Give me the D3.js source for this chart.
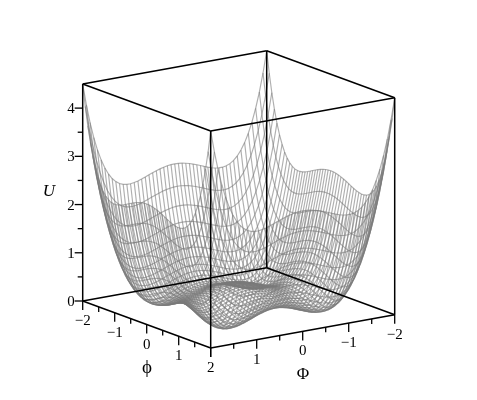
<!DOCTYPE html>
<html><head><meta charset="utf-8">
<script src="https://cdnjs.cloudflare.com/ajax/libs/d3/7.8.5/d3.min.js"></script>
<style>html,body{margin:0;background:#fff}svg{display:block;will-change:transform}text{font-family:"Liberation Serif",serif;fill:#000}</style>
</head><body><svg id="c" width="477" height="400"></svg>
<script>
// Cross-section heights; U at a node = phiProfile[i] + capPhiProfile[j].
const gridStep = 0.08;
const phiProfile = [2.25,1.804,1.423,1.100,0.830,0.608,0.429,0.288,0.180,0.102,0.048,0.016,0.002,0.002,0.013,0.032,0.058,0.087,0.118,0.148,0.176,0.201,0.222,0.237,0.247,0.25,0.247,0.237,0.222,0.201,0.176,0.148,0.118,0.087,0.058,0.032,0.013,0.002,0.002,0.016,0.048,0.102,0.180,0.288,0.429,0.608,0.830,1.100,1.423,1.804,2.25];
const capPhiProfile = [2.25,1.804,1.423,1.100,0.830,0.608,0.429,0.288,0.180,0.102,0.048,0.016,0.002,0.002,0.013,0.032,0.058,0.087,0.118,0.148,0.176,0.201,0.222,0.237,0.247,0.25,0.247,0.237,0.222,0.201,0.176,0.148,0.118,0.087,0.058,0.032,0.013,0.002,0.002,0.016,0.048,0.102,0.180,0.288,0.429,0.608,0.830,1.100,1.423,1.804,2.25];
const uTicks = [0,1,2,3,4], uMinor = [0.5,1.5,2.5,3.5];
const phiTicks = [-2,-1,0,1,2], phiMinor = [-1.5,-0.5,0.5,1.5];
const capPhiTicks = [2,1,0,-1,-2], capPhiMinor = [1.5,0.5,-0.5,-1.5];
const uMax = 4.5;

const gridPhi = phiProfile.map((_, i) => -2 + i * gridStep);
const gridCapPhi = capPhiProfile.map((_, j) => -2 + j * gridStep);

// Orthographic box: each model axis contributes a screen offset through a linear scale.
const phiX = d3.scaleLinear([-2,2],[0,128]), phiY = d3.scaleLinear([-2,2],[0,47]);
const capX = d3.scaleLinear([2,-2],[0,184]), capY = d3.scaleLinear([2,-2],[0,-33.2]);
const uY = d3.scaleLinear([0,uMax],[0,-217]);
const ox = 82.7, oy = 301;
const px = (f,F) => ox + phiX(f) + capX(F);
const py = (f,F,u) => oy + phiY(f) + capY(F) + uY(u);

const svg = d3.select("#c");
svg.append("rect").attr("width",477).attr("height",400).attr("fill","#fff");
const line = d3.line().x(d => px(d[0],d[1])).y(d => py(d[0],d[1],d[2])).curve(d3.curveLinear);

// wire mesh
const rows = [];
phiProfile.forEach((a,i) => rows.push(capPhiProfile.map((b,j) => [gridPhi[i], gridCapPhi[j], a+b])));
capPhiProfile.forEach((b,j) => rows.push(phiProfile.map((a,i) => [gridPhi[i], gridCapPhi[j], a+b])));
svg.append("g").selectAll("path").data(rows).join("path")
  .attr("d", line).attr("fill","none").attr("stroke","#7a7a7a").attr("stroke-width",1.15).attr("stroke-opacity",0.6);

// box
const c = (f,F,u) => [f,F,u];
const edges = [
 [c(-2,2,0),c(2,2,0)],[c(2,2,0),c(2,-2,0)],[c(2,-2,0),c(-2,-2,0)],[c(-2,-2,0),c(-2,2,0)],
 [c(-2,2,uMax),c(2,2,uMax)],[c(2,2,uMax),c(2,-2,uMax)],[c(2,-2,uMax),c(-2,-2,uMax)],[c(-2,-2,uMax),c(-2,2,uMax)],
 [c(-2,2,0),c(-2,2,uMax)],[c(2,2,0),c(2,2,uMax)],[c(2,-2,0),c(2,-2,uMax)],[c(-2,-2,0),c(-2,-2,uMax)]];
svg.append("g").selectAll("path").data(edges).join("path")
  .attr("d", line).attr("fill","none").attr("stroke","#000").attr("stroke-width",1.5);

const tg = svg.append("g").attr("stroke","#000").attr("stroke-width",1.3);
const fmt = v => String(v).replace("-","\u2212");
// U axis
uTicks.concat(uMinor).forEach(u => {
  const major = uTicks.includes(u), y = py(-2,2,u);
  tg.append("line").attr("x1",ox).attr("x2",ox-(major?8:5)).attr("y1",y).attr("y2",y);
});
svg.append("g").selectAll("text").data(uTicks).join("text")
  .attr("x",ox-8).attr("y",u => py(-2,2,u)+5).attr("text-anchor","end").attr("font-size",15).text(fmt);
// phi axis
phiTicks.concat(phiMinor).forEach(f => {
  const major = phiTicks.includes(f), x = px(f,2), y = py(f,2,0);
  tg.append("line").attr("x1",x).attr("x2",x).attr("y1",y).attr("y2",y+(major?9:5));
});
svg.append("g").selectAll("text").data(phiTicks).join("text")
  .attr("x",f => px(f,2)).attr("y",f => py(f,2,0)+24).attr("text-anchor","middle").attr("font-size",15).text(fmt);
// Phi axis
capPhiTicks.concat(capPhiMinor).forEach(F => {
  const major = capPhiTicks.includes(F), x = px(2,F), y = py(2,F,0);
  tg.append("line").attr("x1",x).attr("x2",x).attr("y1",y).attr("y2",y+(major?9:5));
});
svg.append("g").selectAll("text").data(capPhiTicks.filter(F => F!==2)).join("text")
  .attr("x",F => px(2,F)).attr("y",F => py(2,F,0)+24).attr("text-anchor","middle").attr("font-size",15).text(fmt);
// titles
svg.append("text").attr("x",49).attr("y",196).attr("text-anchor","middle").attr("font-size",17).attr("font-style","italic").text("U");
svg.append("text").attr("x",147).attr("y",373).attr("text-anchor","middle").attr("font-size",19).text("\u03D5");
svg.append("text").attr("x",303).attr("y",379).attr("text-anchor","middle").attr("font-size",17).text("\u03A6");
</script></body></html>
